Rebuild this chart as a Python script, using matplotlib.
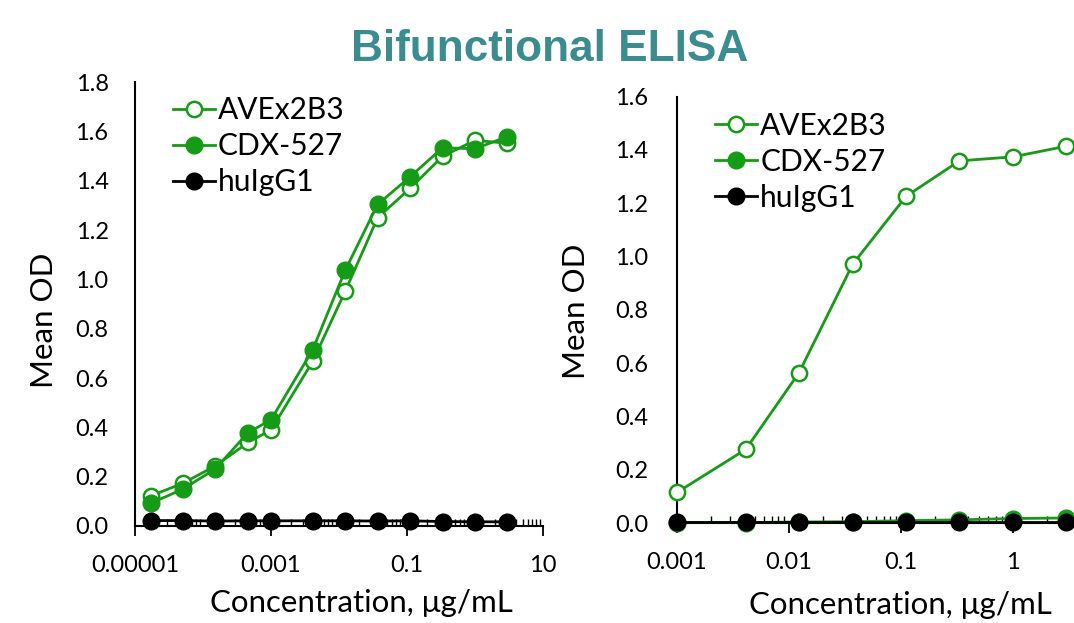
import numpy as np
import matplotlib.pyplot as plt
from matplotlib.ticker import FixedLocator, NullFormatter

plt.rcParams['font.family'] = ['Lato', 'DejaVu Sans']

# left panel data
conc_left = [1.7e-5, 5.1e-5, 1.52e-4, 4.6e-4, 0.001, 0.0041, 0.0123, 0.037, 0.111, 0.333, 1, 3]
ave_left = [0.122, 0.174, 0.244, 0.339, 0.390, 0.668, 0.952, 1.251, 1.37, 1.50, 1.565, 1.553]
cdx_left = [0.092, 0.150, 0.232, 0.379, 0.431, 0.715, 1.037, 1.305, 1.417, 1.535, 1.531, 1.58]
igg_left = [0.022, 0.022, 0.020, 0.021, 0.021, 0.021, 0.021, 0.020, 0.021, 0.018, 0.017, 0.017]

# right panel data
conc_right = [0.001, 0.0041, 0.0123, 0.037, 0.111, 0.333, 1, 3]
ave_right = [0.116, 0.277, 0.565, 0.971, 1.226, 1.359, 1.374, 1.414]
cdx_right = [0.003, 0.003, 0.005, 0.006, 0.010, 0.013, 0.018, 0.020]
igg_right = [0.005, 0.005, 0.005, 0.005, 0.005, 0.005, 0.005, 0.005]

left_ticks = [1e-5, 1e-3, 1e-1, 10]
left_labels = ['0.00001', '0.001', '0.1', '10']
right_ticks = [0.001, 0.01, 0.1, 1, 10]
right_labels = ['0.001', '0.01', '0.1', '1', '']

green = '#169B16'
fs = 17
lab_fs = 22.5
leg_fs = 21.5

fig = plt.figure(figsize=(10.74, 6.23), dpi=100)
ax1 = fig.add_axes([0.1257, 0.1557, 0.3799, 0.712])
ax2 = fig.add_axes([0.6304, 0.160, 0.417, 0.685])


def draw(ax, x, ave, cdx, igg):
    ax.plot(x, ave, color=green, lw=2, marker='o', ms=11, mfc='white', mec=green, mew=1.8,
            label='AVEx2B3', clip_on=False, zorder=3)
    ax.plot(x, cdx, color=green, lw=2, marker='o', ms=12, mfc=green, mec=green,
            label='CDX-527', clip_on=False, zorder=4)
    ax.plot(x, igg, color='black', lw=2, marker='o', ms=12, mfc='black', mec='black',
            label='huIgG1', clip_on=False, zorder=5)
    ax.set_xscale('log')
    for s in ['top', 'right']:
        ax.spines[s].set_visible(False)
    ax.spines['left'].set_linewidth(1.5)
    ax.spines['bottom'].set_linewidth(1.5)
    ax.tick_params(axis='y', length=0, labelsize=fs)
    ax.tick_params(axis='x', which='major', direction='out', length=7, width=1.3, labelsize=fs)
    ax.tick_params(axis='x', which='minor', direction='in', length=5, width=1)
    ax.xaxis.set_minor_formatter(NullFormatter())
    ax.set_ylabel('Mean OD', fontsize=lab_fs)
    ax.set_xlabel('Concentration, μg/mL', fontsize=lab_fs, va='top')


def legend(ax, x0, y0):
    ax.legend(loc='upper left', bbox_to_anchor=(x0, y0), bbox_transform=fig.transFigure,
              frameon=False, fontsize=leg_fs, handlelength=1.4, handletextpad=0.12,
              labelspacing=0.27, borderpad=0, borderaxespad=0)


draw(ax1, conc_left, ave_left, cdx_left, igg_left)
ax1.set_xlim(1e-5, 10)
ax1.set_ylim(0, 1.8)
ax1.set_yticks(np.arange(0, 1.81, 0.2))
ax1.set_yticklabels(['%.1f' % v for v in np.arange(0, 1.81, 0.2)])
ax1.xaxis.set_major_locator(FixedLocator(left_ticks))
ax1.set_xticklabels(left_labels)
ax1.xaxis.set_minor_locator(FixedLocator([k * 10.0 ** e for e in range(-5, 1) for k in range(2, 10)]))
ax1.tick_params(axis='y', pad=19)
ax1.tick_params(axis='x', which='major', pad=14)
ax1.yaxis.set_label_coords(-0.189, 0.464)
ax1.xaxis.set_label_coords(0.556, -0.142)
legend(ax1, 0.1608, 0.8456)

draw(ax2, conc_right, ave_right, cdx_right, igg_right)
ax2.set_xlim(0.001, 10)
ax2.set_ylim(0, 1.6)
ax2.set_yticks(np.arange(0, 1.61, 0.2))
ax2.set_yticklabels(['%.1f' % v for v in np.arange(0, 1.61, 0.2)])
ax2.xaxis.set_major_locator(FixedLocator(right_ticks))
ax2.set_xticklabels(right_labels)
ax2.xaxis.set_minor_locator(FixedLocator([k * 10.0 ** e for e in range(-3, 1) for k in range(2, 10)]))
ax2.tick_params(axis='y', pad=21)
ax2.tick_params(axis='x', which='major', pad=14)
ax2.yaxis.set_label_coords(-0.194, 0.4975)
ax2.xaxis.set_label_coords(0.498, -0.158)
legend(ax2, 0.6657, 0.821)

fig.text(0.512, 0.92, 'Bifunctional ELISA', ha='center', va='center', fontsize=31.8,
         fontweight='bold', color='#3A8C8F', family='Liberation Sans')

fig.savefig('out.png', dpi=100)
